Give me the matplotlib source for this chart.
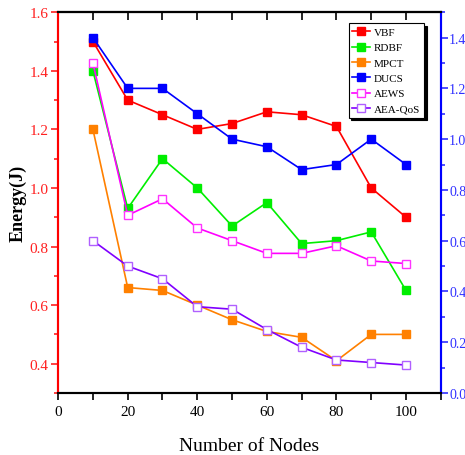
import numpy as np
import matplotlib.pyplot as plt
from matplotlib.ticker import MultipleLocator

plt.rcParams['font.family'] = ['Liberation Serif', 'DejaVu Serif']

nodes = [10, 20, 30, 40, 50, 60, 70, 80, 90, 100]

# left axis (red) series
vbf = [1.50, 1.30, 1.25, 1.20, 1.22, 1.26, 1.25, 1.21, 1.00, 0.90]
rdbf = [1.40, 0.93, 1.10, 1.00, 0.87, 0.95, 0.81, 0.82, 0.85, 0.65]
mpct = [1.20, 0.66, 0.65, 0.60, 0.55, 0.51, 0.49, 0.41, 0.50, 0.50]

# right axis (blue) series
ducs = [1.40, 1.20, 1.20, 1.10, 1.00, 0.97, 0.88, 0.90, 1.00, 0.90]
aews = [1.30, 0.70, 0.765, 0.65, 0.60, 0.55, 0.55, 0.58, 0.52, 0.51]
aea_qos = [0.60, 0.50, 0.45, 0.34, 0.33, 0.25, 0.18, 0.13, 0.12, 0.11]

fig = plt.figure(figsize=(4.65, 4.56), dpi=100)
ax = fig.add_axes([0.125, 0.136, 0.823, 0.835])
ax2 = ax.twinx()

ms = 6
lw = 1.2
h1, = ax.plot(nodes, vbf, '-s', color='#ff0000', ms=ms, lw=lw, label='VBF')
h2, = ax.plot(nodes, rdbf, '-s', color='#00ee00', ms=ms, lw=lw, label='RDBF')
h3, = ax.plot(nodes, mpct, '-s', color='#ff8000', ms=ms, lw=lw, label='MPCT')
h4, = ax2.plot(nodes, ducs, '-s', color='#0000ff', ms=ms, lw=lw, label='DUCS')
h5, = ax2.plot(nodes, aews, '-s', color='#ff00ff', mfc='white', mec='#ff33ff',
               ms=ms, lw=lw, label='AEWS')
h6, = ax2.plot(nodes, aea_qos, '-s', color='#8000ff', mfc='white', mec='#b060ff',
               ms=ms, lw=lw, label='AEA-QoS')

ax.set_xlim(0, 110)
ax.set_ylim(0.3, 1.6)
ax2.set_ylim(0, 1.5)

ax.xaxis.set_major_locator(MultipleLocator(20))
ax.xaxis.set_minor_locator(MultipleLocator(10))
ax.yaxis.set_major_locator(MultipleLocator(0.2))
ax.yaxis.set_minor_locator(MultipleLocator(0.1))
ax2.yaxis.set_major_locator(MultipleLocator(0.2))
ax2.yaxis.set_minor_locator(MultipleLocator(0.1))
ax.yaxis.set_major_formatter(plt.FormatStrFormatter('%.1f'))
ax2.yaxis.set_major_formatter(plt.FormatStrFormatter('%.1f'))

ax.tick_params(axis='x', which='both', direction='out', top=False, length=5, width=1.2,
               labelsize=11)
ax.tick_params(axis='y', which='both', direction='out', colors='#ff2020', length=5,
               width=1.2, labelsize=11, pad=2)
ax.tick_params(axis='y', which='minor', length=3)
ax2.tick_params(axis='y', which='both', direction='out', colors='#3030ff', length=5,
                width=1.2, labelsize=10, pad=1)
ax2.tick_params(axis='y', which='minor', length=3)

# top ticks pointing inward
sec = ax.secondary_xaxis('top')
sec.xaxis.set_major_locator(MultipleLocator(10))
sec.tick_params(direction='in', length=6, width=1.2, labeltop=False)

for a in (ax, ax2):
    a.spines['left'].set_color('#ff0000')
    a.spines['right'].set_color('#0000ff')
    for s in ('left', 'right', 'bottom', 'top'):
        a.spines[s].set_linewidth(1.5)
sec.spines['top'].set_linewidth(1.5)

ax.set_xlabel('Number of Nodes', fontsize=14, labelpad=14)
ax.set_ylabel('Energy(J)', fontsize=13, fontweight='bold', labelpad=2)

leg = ax2.legend(handles=[h1, h2, h3, h4, h5, h6], loc='upper right',
                 bbox_to_anchor=(0.97, 0.985), fontsize=8, handlelength=1.6,
                 handletextpad=0.3, labelspacing=0.5, borderpad=0.35,
                 fancybox=False, shadow={'color': 'black', 'alpha': 1},
                 framealpha=1, edgecolor='black')
leg.get_frame().set_linewidth(0.8)

fig.savefig('out.png', dpi=100)
